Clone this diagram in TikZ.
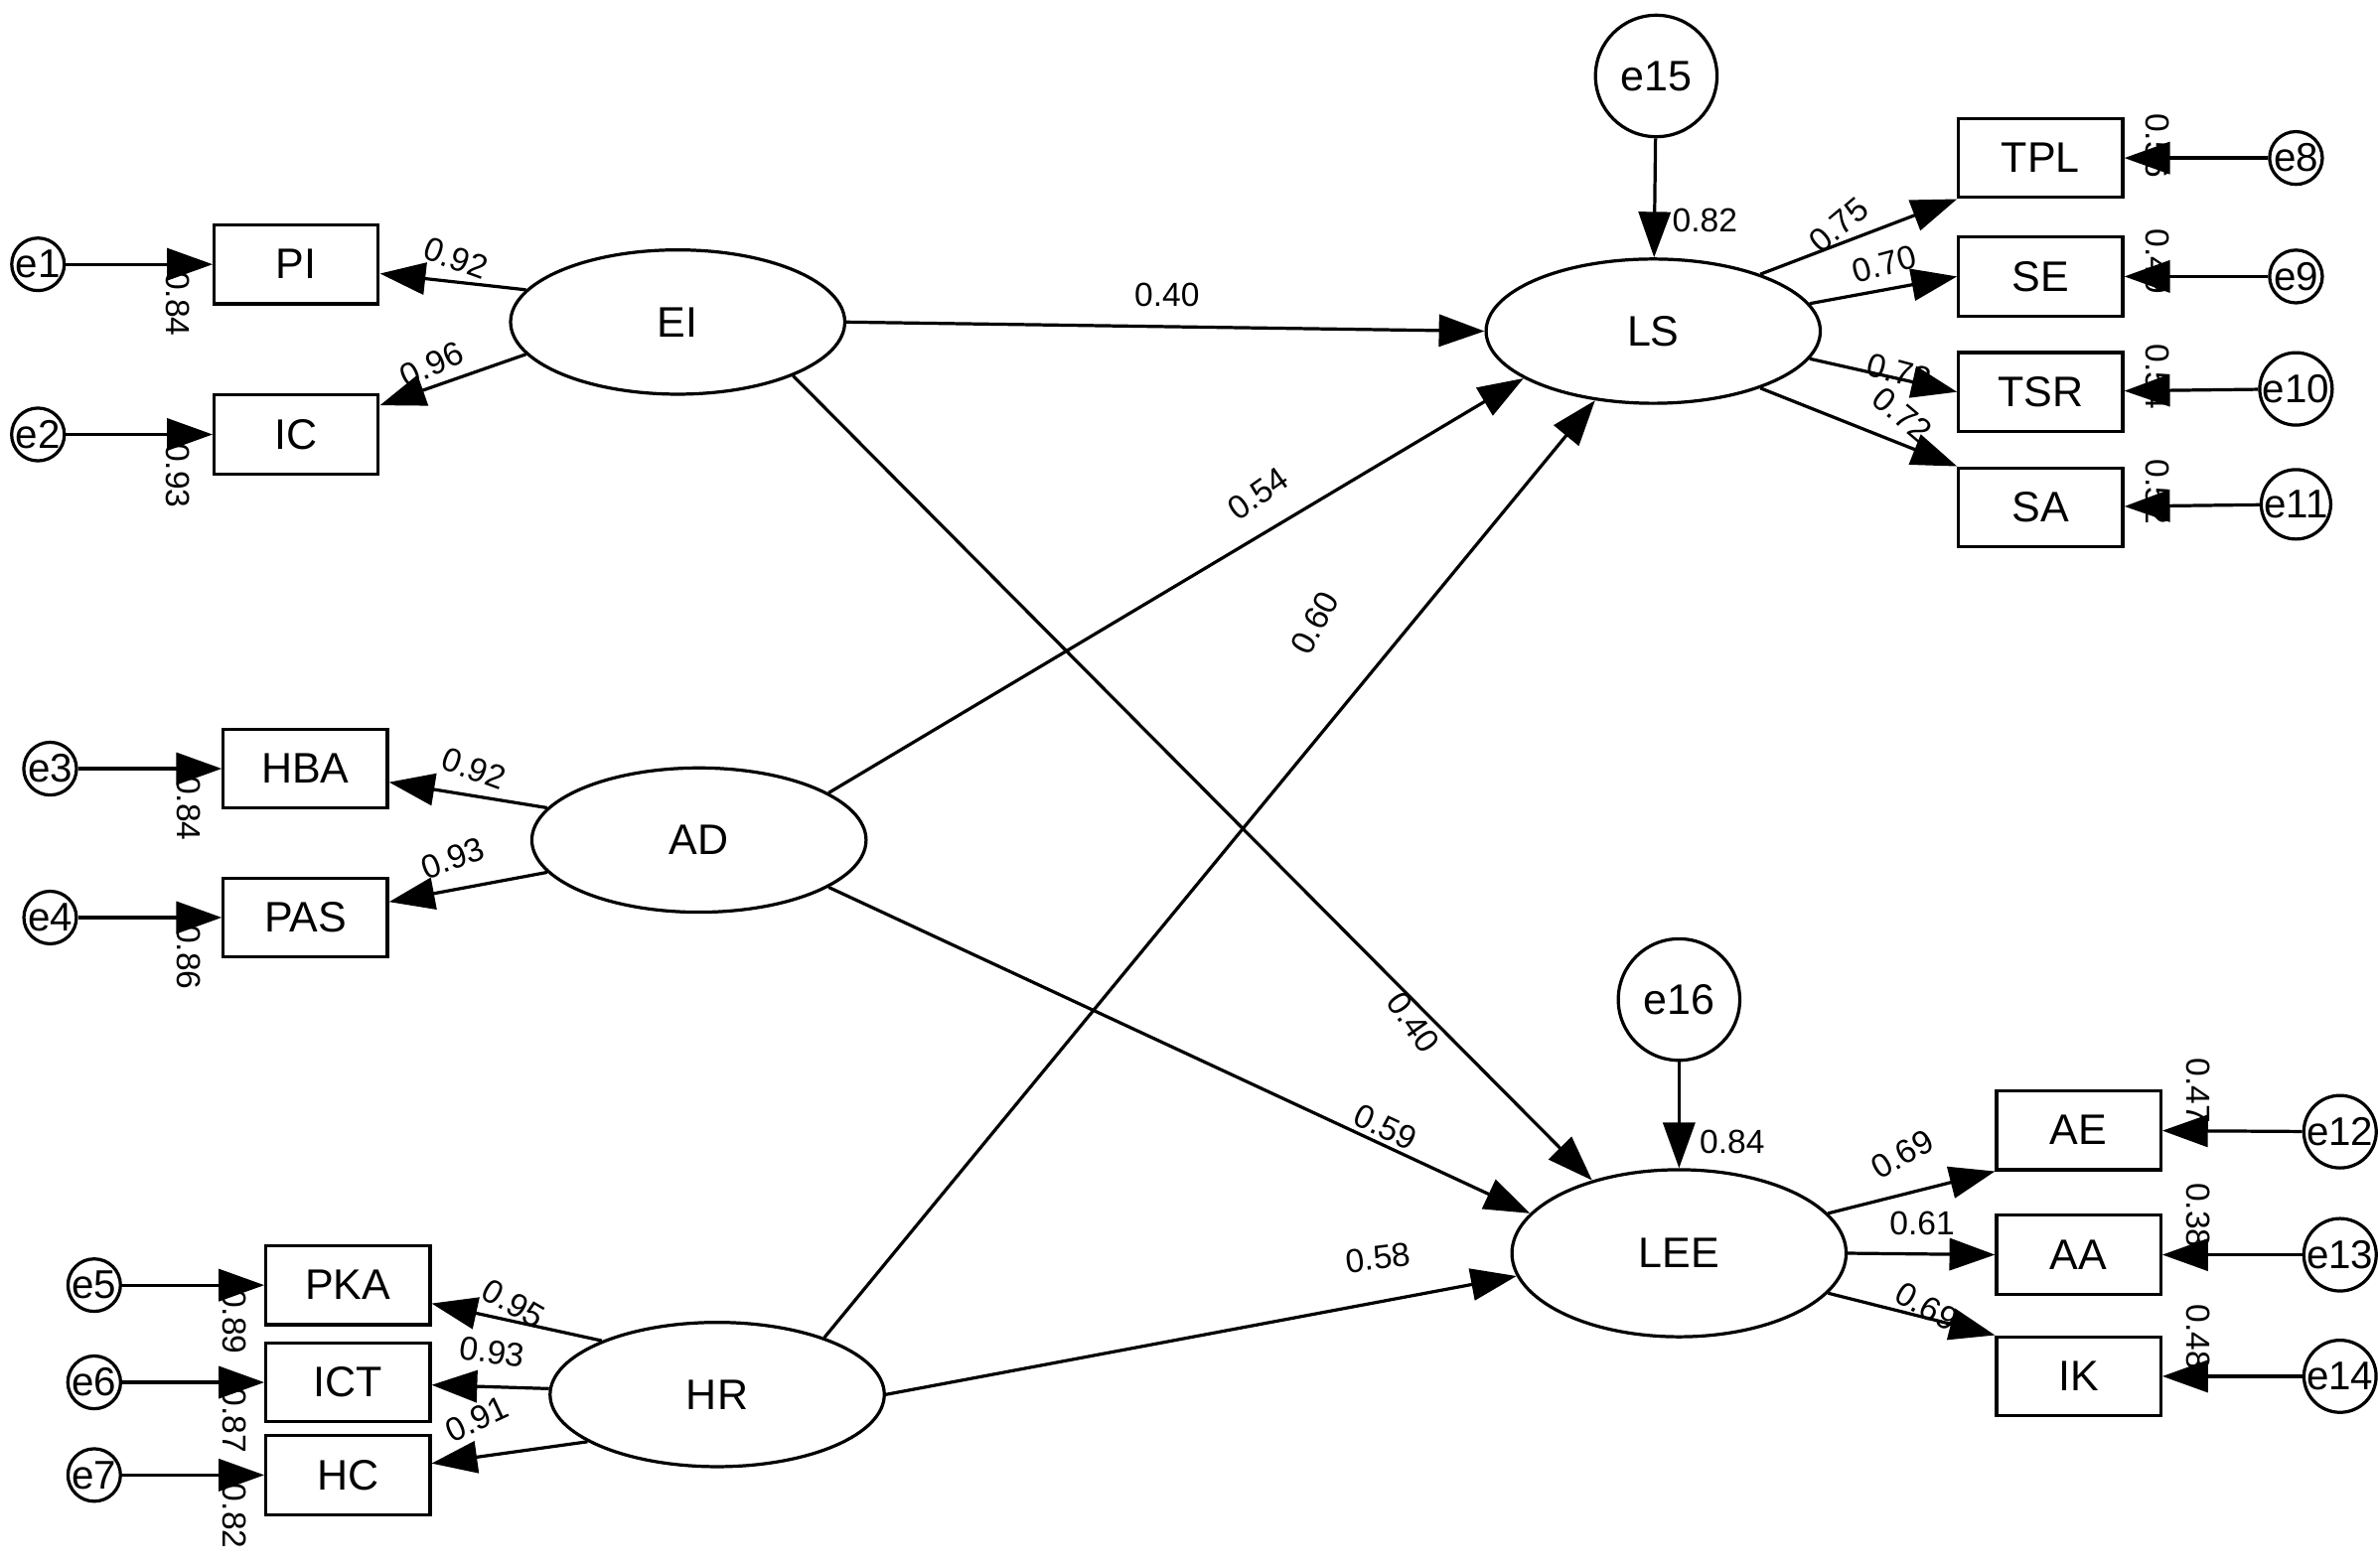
\documentclass[tikz,border=0pt]{standalone}
\usepackage{fontspec}
\setmainfont{Liberation Sans}
\usetikzlibrary{arrows.meta,shapes.geometric}
\begin{document}
\begin{tikzpicture}[x=0.02cm,y=-0.02cm,
 lat/.style={draw,ellipse,line width=1.2pt,minimum width=4.4cm,minimum height=1.9cm,font=\fontsize{16}{18}\selectfont},
 obs/.style={draw,rectangle,line width=1.2pt,minimum width=2.16cm,minimum height=1.04cm,font=\fontsize{16}{18}\selectfont},
 err/.style={draw,circle,line width=1.2pt,minimum size=0.64cm,inner sep=0pt,font=\fontsize{15}{16}\selectfont},
 bigerr/.style={draw,circle,line width=1.2pt,minimum size=1.6cm,inner sep=0pt,font=\fontsize{16}{18}\selectfont},
 ar/.style={line width=1.2pt,-{Triangle[length=0.6cm,width=0.42cm]}},
 lb/.style={font=\fontsize{12.5}{14}\selectfont,inner sep=1pt},
 vl/.style={font=\fontsize{12.5}{14}\selectfont,inner sep=1pt,rotate=-90}]
\useasboundingbox (0,0) rectangle (1565,1032);
% latent
\node[lat] (EI) at (446,212) {EI};
\node[lat] (AD) at (460,553) {AD};
\node[lat] (HR) at (472,918) {HR};
\node[lat] (LS) at (1088,218) {LS};
\node[lat,minimum height=2.2cm] (LEE) at (1105,825) {LEE};
% observed
\node[obs] (PI) at (195,174) {PI};
\node[obs] (IC) at (195,286) {IC};
\node[obs] (HBA) at (201,506) {HBA};
\node[obs] (PAS) at (201,604) {PAS};
\node[obs] (PKA) at (229,846) {PKA};
\node[obs] (ICT) at (229,910) {ICT};
\node[obs] (HC) at (229,971) {HC};
\node[obs] (TPL) at (1343,104) {TPL};
\node[obs] (SE) at (1343,182) {SE};
\node[obs] (TSR) at (1343,258) {TSR};
\node[obs] (SA) at (1343,334) {SA};
\node[obs] (AE) at (1368,744) {AE};
\node[obs] (AA) at (1368,826) {AA};
\node[obs] (IK) at (1368,906) {IK};
% errors
\node[err] (e1) at (25,174) {e1};
\node[err] (e2) at (25,286) {e2};
\node[err] (e3) at (33,506) {e3};
\node[err] (e4) at (33,604) {e4};
\node[err] (e5) at (62,846) {e5};
\node[err] (e6) at (62,910) {e6};
\node[err] (e7) at (62,971) {e7};
\node[err] (e8) at (1511,104) {e8};
\node[err] (e9) at (1511,182) {e9};
\node[err] (e10) at (1511,256) {e10};
\node[err] (e11) at (1511,332) {e11};
\node[err] (e12) at (1540,745) {e12};
\node[err] (e13) at (1540,826) {e13};
\node[err] (e14) at (1540,906) {e14};
\node[bigerr] (e15) at (1090,50) {e15};
\node[bigerr] (e16) at (1105,658) {e16};
% error arrows
\foreach \e/\o in {e1/PI,e2/IC,e3/HBA,e4/PAS,e5/PKA,e6/ICT,e7/HC,e8/TPL,e9/SE,e10/TSR,e11/SA,e12/AE,e13/AA,e14/IK}
  \draw[ar] (\e) -- (\o);
\draw[ar] (e15) -- (LS);
\draw[ar] (e16) -- (LEE);
% loadings
\draw[ar] (EI.168) -- (PI);
\draw[ar] (EI.192) -- (IC);
\draw[ar] (AD.168) -- (HBA);
\draw[ar] (AD.192) -- (PAS);
\draw[ar] (HR.155) -- (PKA);
\draw[ar] (HR.178) -- (ICT);
\draw[ar] (HR.200) -- (HC);
\draw[ar] (LS.28) -- (TPL.south west);
\draw[ar] (LS.10) -- (SE.west);
\draw[ar] (LS.-10) -- (TSR.west);
\draw[ar] (LS.-28) -- (SA.north west);
\draw[ar] (LEE.15) -- (AE.south west);
\draw[ar] (LEE.0) -- (AA.west);
\draw[ar] (LEE.-15) -- (IK.north west);
% structural
\draw[ar] (EI.east) -- (LS.west);
\draw[ar] (EI.-25) -- (LEE.140);
\draw[ar] (AD.20) -- (LS.200);
\draw[ar] (AD.-20) -- (LEE.165);
\draw[ar] (HR.28) -- (LS.230);
\draw[ar] (HR.east) -- (LEE.188);
% structural labels
\node[lb] (s1) at (768,194) {0.40};
\node[lb,rotate=-55] (s2) at (930,673) {0.40};
\node[lb,rotate=35] (s3) at (828,325) {0.54};
\node[lb,rotate=62] (s4) at (865,410) {0.60};
\node[lb,rotate=-25] (s5) at (912,742) {0.59};
\node[lb,rotate=7] (s6) at (907,828) {0.58};
% loading labels
\node[lb,rotate=-20] (l1) at (300,170) {0.92};
\node[lb,rotate=25] (l2) at (284,240) {0.96};
\node[lb,rotate=-20] (l3) at (312,506) {0.92};
\node[lb,rotate=20] (l4) at (298,565) {0.93};
\node[lb,rotate=-30] (l5) at (338,858) {0.95};
\node[lb,rotate=-8] (l6) at (324,890) {0.93};
\node[lb,rotate=25] (l7) at (314,934) {0.91};
\node[lb,rotate=40] (l8) at (1210,148) {0.75};
\node[lb,rotate=15] (l9) at (1240,174) {0.70};
\node[lb,rotate=-15] (l10) at (1250,245) {0.73};
\node[lb,rotate=-40] (l11) at (1252,273) {0.72};
\node[lb,rotate=30] (l12) at (1252,760) {0.69};
\node[lb] (l13) at (1265,805) {0.61};
\node[lb,rotate=-30] (l14) at (1268,860) {0.69};
\node[lb] (r15) at (1122,145) {0.82};
\node[lb] (r16) at (1140,752) {0.84};
% error variance labels
\node[vl] (v1) at (117,200) {0.84};
\node[vl] (v2) at (117,313) {0.93};
\node[vl] (v3) at (124,532) {0.84};
\node[vl] (v4) at (124,630) {0.86};
\node[vl] (v5) at (154,870) {0.89};
\node[vl] (v6) at (154,935) {0.87};
\node[vl] (v7) at (154,998) {0.82};
\node[vl] (v8) at (1420,96) {0.56};
\node[vl] (v9) at (1420,172) {0.49};
\node[vl] (v10) at (1420,248) {0.54};
\node[vl] (v11) at (1420,324) {0.52};
\node[vl] (v12) at (1447,718) {0.47};
\node[vl] (v13) at (1447,800) {0.38};
\node[vl] (v14) at (1447,880) {0.48};
\end{tikzpicture}
\end{document}
